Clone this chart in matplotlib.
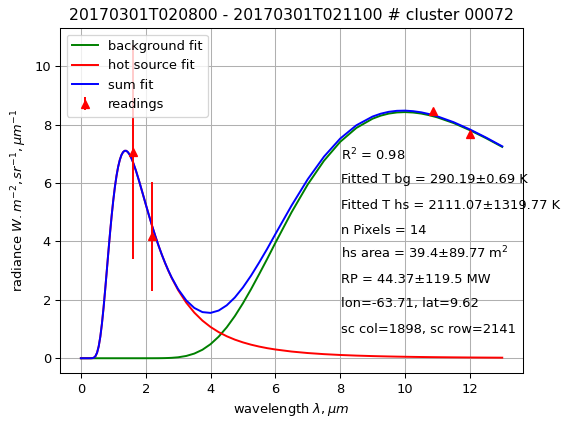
import matplotlib
matplotlib.use("Agg")
import matplotlib.pyplot as plt
import numpy as np

# wavelength grid (micrometres) and fitted radiances
wavelength = [0, 0.1, 0.2, 0.3, 0.35, 0.4, 0.45, 0.5, 0.55, 0.6, 0.65, 0.7, 0.75, 0.8,
              0.85, 0.9, 0.95, 1.0, 1.05, 1.1, 1.15, 1.2, 1.25, 1.3, 1.35, 1.4, 1.45,
              1.5, 1.55, 1.6, 1.7, 1.8, 1.9, 2.0, 2.1, 2.2, 2.3, 2.4, 2.5, 2.6, 2.7,
              2.8, 3.0, 3.25, 3.5, 3.75, 4.0, 4.25, 4.5, 4.75, 5.0, 5.25, 5.5, 5.75,
              6.0, 6.5, 7.0, 7.5, 8.0, 8.5, 9.0, 9.25, 9.5, 9.75, 10.0, 10.25, 10.5,
              10.75, 11.0, 11.5, 12.0, 12.5, 13.0]

background_fit = [0, 0, 0, 0, 0, 0, 0, 0, 0, 0, 0, 0, 0, 0,
                  0, 0, 0, 0, 0, 0, 0, 0, 0, 0, 0, 0, 0,
                  0, 0, 0, 0, 0, 0, 0.0001, 0.0002, 0.0004, 0.0009, 0.0016, 0.003, 0.0052, 0.009,
                  0.0141, 0.0325, 0.0778, 0.1597, 0.2907, 0.4814, 0.737, 1.0587, 1.4428, 1.882, 2.364, 2.878, 3.405,
                  3.949, 4.998, 5.952, 6.762, 7.409, 7.886, 8.202, 8.306, 8.377, 8.416, 8.428, 8.413, 8.378,
                  8.320, 8.246, 8.052, 7.809, 7.534, 7.236]

hot_source_fit = [0, 0, 0, 0.0003, 0.0033, 0.0192, 0.0707, 0.190, 0.4067, 0.739, 1.187, 1.732,
                  2.350, 3.002, 3.661, 4.295, 4.885, 5.412, 5.869, 6.251, 6.556, 6.787, 6.953,
                  7.055, 7.103, 7.103, 7.057, 6.978, 6.870, 6.737, 6.419, 6.054, 5.668, 5.277,
                  4.892, 4.523, 4.172, 3.842, 3.537, 3.254, 2.993, 2.753, 2.333, 1.904, 1.562,
                  1.289, 1.071, 0.8953, 0.753, 0.6372, 0.5426, 0.4643, 0.3994, 0.3448, 0.300,
                  0.2293, 0.178, 0.1403, 0.112, 0.0904, 0.0737, 0.0668, 0.0607, 0.0553, 0.0505,
                  0.0461, 0.0423, 0.0388, 0.0357, 0.0303, 0.0259, 0.0223, 0.0193]

sum_fit = list(np.add(background_fit, hot_source_fit))

reading_wl = [1.6, 2.2, 10.85, 12.0]
reading_val = [7.05, 4.18, 8.45, 7.67]
reading_err = [3.66, 1.87, 0.03, 0.03]

title = "20170301T020800 - 20170301T021100 # cluster 00072"
info_lines = [
    r"R$^2$ = 0.98",
    "Fitted T bg = 290.19\u00b10.69 K",
    "Fitted T hs = 2111.07\u00b11319.77 K",
    "n Pixels = 14",
    r"hs area = 39.4$\pm$89.77 m$^2$",
    "RP = 44.37\u00b1119.5 MW",
    "lon=-63.71, lat=9.62",
    "sc col=1898, sc row=2141",
]
info_y = [6.96, 6.11, 5.23, 4.39, 3.59, 2.71, 1.86, 0.99]

DPI = 93.5
fig = plt.figure(figsize=(562 / DPI, 421 / DPI), dpi=DPI)
ax = fig.add_axes([0.107, 0.113, 0.823, 0.820])

ax.plot(wavelength, background_fit, color="green", label="background fit")
ax.plot(wavelength, hot_source_fit, color="red", label="hot source fit")
ax.plot(wavelength, sum_fit, color="blue", label="sum fit")
ax.errorbar(reading_wl, reading_val, yerr=reading_err, fmt="r^", label="readings")

for txt, yy in zip(info_lines, info_y):
    ax.text(8.02, yy, txt, va="center", ha="left", fontsize=10)

ax.set_xlim(-0.64, 13.63)
ax.set_ylim(-0.52, 11.3)
ax.grid(True)
ax.set_xlabel(r"wavelength $\lambda, \mu m$")
ax.set_ylabel(r"radiance $W.m^{-2}, sr^{-1}, \mu m^{-1}$")
ax.set_title(title)
ax.legend(loc="upper left")

fig.savefig("out.png", dpi=DPI)
